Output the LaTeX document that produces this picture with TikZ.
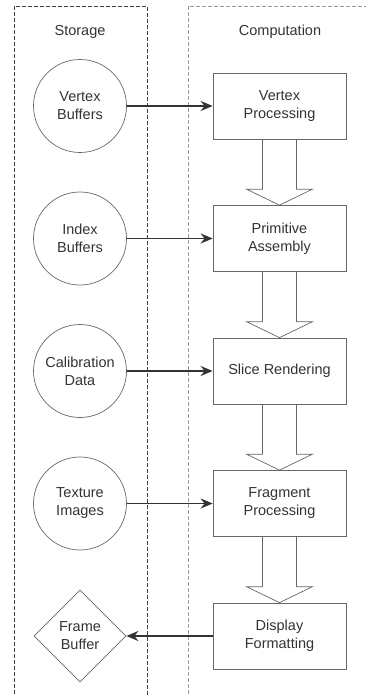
\documentclass[tikz,border=0pt]{standalone}
\usepackage{fontspec}
\setmainfont{Liberation Sans}
\usepackage{tikz}
\usetikzlibrary{arrows.meta,positioning,shapes.geometric,calc}

\begin{document}
\begin{tikzpicture}[x=1pt,y=1pt,->,>={Stealth[length=12pt,width=10pt]},node distance=132.5pt,
    every node/.style={font=\fontsize{14.5}{18}\selectfont,text=black!80,align=center},
    store/.style={circle,draw=black!60,line width=0.7pt,minimum size=93pt,inner sep=0pt},
    sink/.style={diamond,draw=black!60,line width=0.7pt,minimum width=92pt,minimum height=92pt,inner sep=0pt},
    stage/.style={rectangle,draw=black!60,line width=0.7pt,minimum width=133pt,minimum height=66pt},
    feed/.style={draw=black!80,line width=1.8pt},
    fat/.style={-,draw=black!60,line width=0.7pt,
      to path={($(\tikztostart.south)+(-17,0)$) -- ($(\tikztotarget.north)+(-17,16)$) -- ++(-16,0)
        -- (\tikztotarget.north) -- ($(\tikztotarget.north)+(33,16)$) -- ++(-16,0)
        -- ($(\tikztostart.south)+(17,0)$)}}]
        \useasboundingbox (0,0) rectangle (366,-696);
        % lanes
        \draw[-,black!75,line width=0.6pt,dash pattern=on 4pt off 2pt] (14,-700) |- (147,-6) -- (147,-700);
        \draw[-,black!40,line width=0.6pt,dash pattern=on 4pt off 2pt] (188,-700) |- (380,-6);
        \node (st) at (80,-32) {Storage};
        \node (co) at (280,-32) {Computation};

        \node[store] (vb) at (80,-106) {Vertex\\Buffers};
        \node[store] (ib) [below of=vb] {Index\\Buffers};
        \node[store] (cd) [below of=ib] {Calibration\\Data};
        \node[store] (ti) [below of=cd] {Texture\\Images};
        \node[sink] (fb) [below of=ti] {Frame\\Buffer};

        \node[stage] (vp) [node distance=199.5pt,right of=vb] {Vertex\\Processing};
        \node[stage] (pa) [below of=vp] {Primitive\\Assembly};
        \node[stage] (sr) [below of=pa] {Slice Rendering};
        \node[stage] (fp) [below of=sr] {Fragment\\Processing};
        \node[stage] (df) [below of=fp] {Display\\Formatting};

        \path (vb) edge[feed] (vp)
              (ib) edge[feed] (pa)
              (cd) edge[feed] (sr)
              (ti) edge[feed] (fp)
              (df) edge[feed] (fb) % to frame buffer
              ;
        \path (vp) edge[fat] (pa)
              (pa) edge[fat] (sr)
              (sr) edge[fat] (fp)
              (fp) edge[fat] (df)
              ;
      \end{tikzpicture}
\end{document}
